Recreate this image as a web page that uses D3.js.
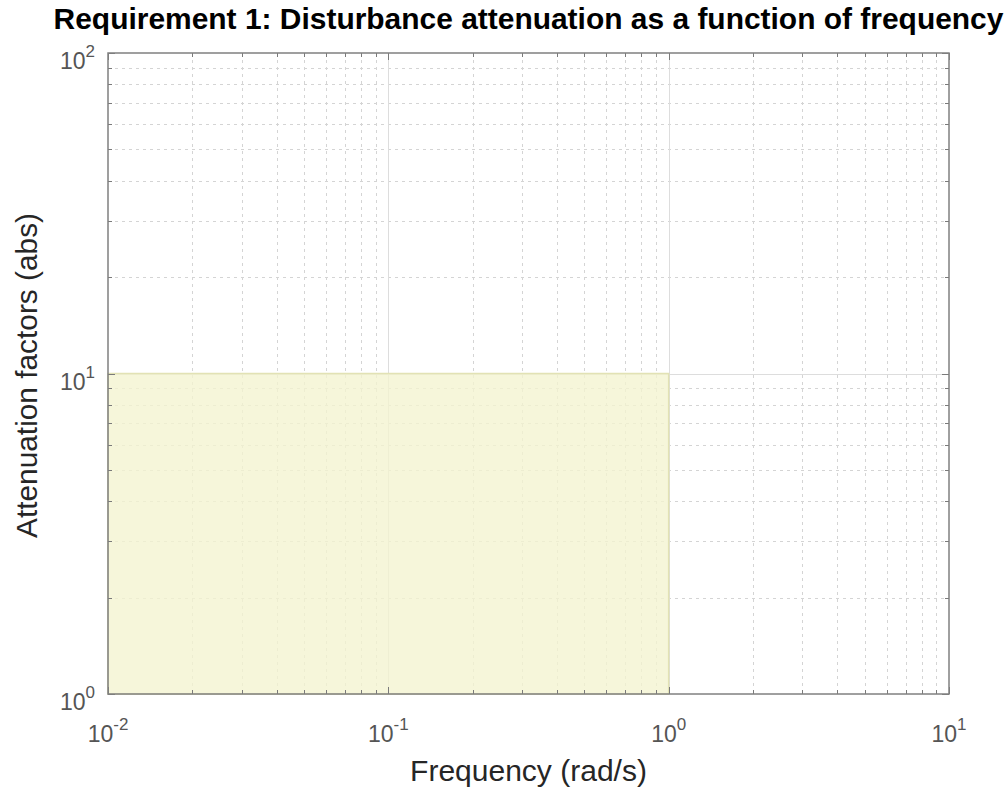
<!DOCTYPE html>
<html><head><meta charset="utf-8">
<script src="https://cdn.jsdelivr.net/npm/d3@7"></script>
<style>body{margin:0;background:#fff} svg{display:block}</style></head>
<body>
<svg id="c" width="1008" height="788"></svg>
<script>
// ---- data ----
const xDomain = [0.01, 10];
const yDomain = [1, 100];
const xTickExps = [-2, -1, 0, 1];
const yTickExps = [0, 1, 2];
const regionX = [0.01, 1];   // frequency band of requirement
const regionY = [1, 10];     // attenuation factor band
const titleText = "Requirement 1: Disturbance attenuation as a function of frequency";
const xLabelText = "Frequency (rad/s)";
const yLabelText = "Attenuation factors (abs)";

// ---- layout ----
const L = 108, R = 949, T = 53, B = 694;
const svg = d3.select("#c");
const font = "Liberation Sans, Arial, Helvetica, sans-serif";

const x = d3.scaleLog().domain(xDomain).range([L, R]);
const y = d3.scaleLog().domain(yDomain).range([B, T]);

function minorVals(domain) {
  const out = [];
  const d0 = Math.round(Math.log10(domain[0])), d1 = Math.round(Math.log10(domain[1]));
  for (let d = d0; d < d1; d++) for (let k = 2; k <= 9; k++) out.push(k * Math.pow(10, d));
  return out;
}
const xMinor = minorVals(xDomain), yMinor = minorVals(yDomain);
const xMajor = xTickExps.map(e => Math.pow(10, e));
const yMajor = yTickExps.map(e => Math.pow(10, e));

const g = svg.append("g");

// grid
const grid = g.append("g");
grid.selectAll(".xmin").data(xMinor).join("line")
  .attr("x1", d => Math.round(x(d)) + 0.5).attr("x2", d => Math.round(x(d)) + 0.5)
  .attr("y1", T).attr("y2", B).attr("stroke", "#d4d4d4").attr("stroke-dasharray", "3,4");
grid.selectAll(".ymin").data(yMinor).join("line")
  .attr("y1", d => Math.round(y(d)) + 0.5).attr("y2", d => Math.round(y(d)) + 0.5)
  .attr("x1", L).attr("x2", R).attr("stroke", "#d4d4d4").attr("stroke-dasharray", "3,4");
grid.selectAll(".xmaj").data(xMajor.slice(1, -1)).join("line")
  .attr("x1", d => Math.round(x(d)) + 0.5).attr("x2", d => Math.round(x(d)) + 0.5)
  .attr("y1", T).attr("y2", B).attr("stroke", "#dddddd");
grid.selectAll(".ymaj").data(yMajor.slice(1, -1)).join("line")
  .attr("y1", d => Math.round(y(d)) + 0.5).attr("y2", d => Math.round(y(d)) + 0.5)
  .attr("x1", L).attr("x2", R).attr("stroke", "#dddddd");

// requirement region
g.append("rect")
  .attr("x", x(regionX[0])).attr("y", y(regionY[1]))
  .attr("width", x(regionX[1]) - x(regionX[0]))
  .attr("height", y(regionY[0]) - y(regionY[1]))
  .attr("fill", "rgb(243,243,208)").attr("fill-opacity", 0.78)
  .attr("stroke", "#e2e2b4").attr("stroke-width", 1.5);

// ticks (inside, all four sides)
const tk = g.append("g").attr("stroke", "#7a7a7a").attr("stroke-width", 1);
function tickLines(vals, len, horizontal) {
  vals.forEach(v => {
    if (horizontal) {
      const px = Math.round(x(v)) + 0.5;
      tk.append("line").attr("x1", px).attr("x2", px).attr("y1", B).attr("y2", B - len);
      tk.append("line").attr("x1", px).attr("x2", px).attr("y1", T).attr("y2", T + len);
    } else {
      const py = Math.round(y(v)) + 0.5;
      tk.append("line").attr("y1", py).attr("y2", py).attr("x1", L).attr("x2", L + len);
      tk.append("line").attr("y1", py).attr("y2", py).attr("x1", R).attr("x2", R - len);
    }
  });
}
tickLines(xMinor, 4, true); tickLines(xMajor, 7, true);
tickLines(yMinor, 4, false); tickLines(yMajor, 7, false);

// box
g.append("rect").attr("x", L).attr("y", T).attr("width", R - L).attr("height", B - T)
  .attr("fill", "none").attr("stroke", "#808080").attr("stroke-width", 1.5);

// tick labels
const tickColor = "#555555";
const xl = g.append("g").attr("font-family", font).attr("fill", tickColor);
xTickExps.forEach(e => {
  const t = xl.append("text").attr("x", x(Math.pow(10, e))).attr("y", 742)
    .attr("text-anchor", "middle").attr("font-size", 23);
  t.append("tspan").text("10");
  t.append("tspan").attr("dy", -12).attr("font-size", 17).text(String(e));
});
const yl = g.append("g").attr("font-family", font).attr("fill", tickColor);
yTickExps.forEach(e => {
  const t = yl.append("text").attr("x", 95).attr("y", y(Math.pow(10, e)) + 16)
    .attr("text-anchor", "end").attr("font-size", 23);
  t.append("tspan").text("10");
  t.append("tspan").attr("dy", -12).attr("font-size", 17).text(String(e));
});

// labels
function fit(sel, target) {
  const base = +sel.attr("font-size");
  const w = sel.node().getComputedTextLength();
  sel.attr("font-size", (base * target / w).toFixed(2));
}
const title = svg.append("text").attr("x", (L + R) / 2).attr("y", 29)
  .attr("text-anchor", "middle").attr("font-family", font).attr("font-weight", "bold")
  .attr("font-size", 26).attr("fill", "#000").text(titleText);
fit(title, 950);
const xlab = svg.append("text").attr("x", (L + R) / 2).attr("y", 781)
  .attr("text-anchor", "middle").attr("font-family", font)
  .attr("font-size", 28).attr("fill", "#262626").text(xLabelText);
fit(xlab, 237);
const ylab = svg.append("text").attr("transform", `translate(37,${(T + B) / 2 + 2}) rotate(-90)`)
  .attr("text-anchor", "middle").attr("font-family", font)
  .attr("font-size", 28).attr("fill", "#262626").text(yLabelText);
fit(ylab, 325);
</script>
</body></html>
